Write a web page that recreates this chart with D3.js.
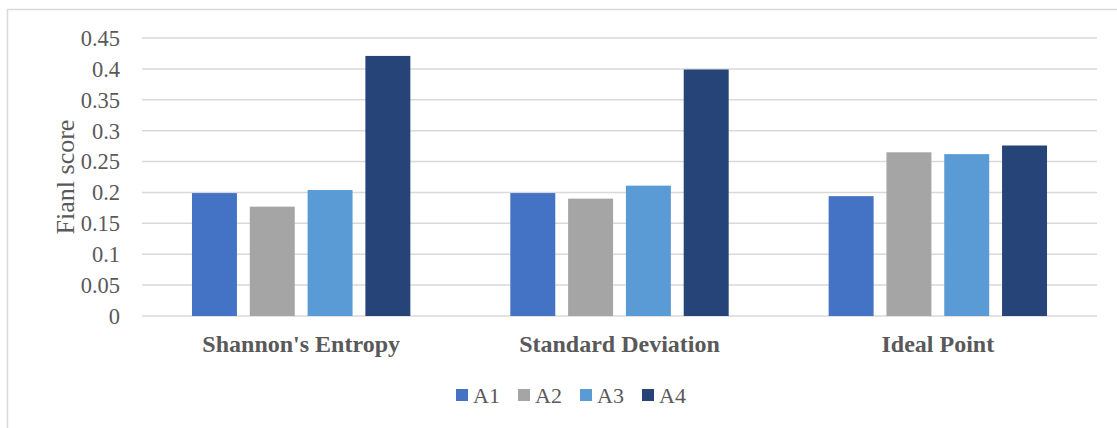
<!DOCTYPE html>
<html>
<head>
<meta charset="utf-8">
<script src="https://cdn.jsdelivr.net/npm/d3@7"></script>
<style>
  html, body { margin: 0; padding: 0; background: #fff; }
  svg { display: block; }
  text { font-family: "Liberation Serif", "Times New Roman", serif; fill: #595959; }
</style>
</head>
<body>
<svg id="chart" width="1117" height="428"></svg>
<script>
// Final scores of alternatives A1–A4 under three weighting methods
const categories = ["Shannon's Entropy", "Standard Deviation", "Ideal Point"];
const seriesNames = ["A1", "A2", "A3", "A4"];
const seriesColors = ["#4472C4", "#A5A5A5", "#5B9BD5", "#264478"];
const valuesA1 = [0.199, 0.199, 0.194];
const valuesA2 = [0.177, 0.190, 0.265];
const valuesA3 = [0.204, 0.211, 0.262];
const valuesA4 = [0.421, 0.399, 0.276];
const yTicks = [0, 0.05, 0.1, 0.15, 0.2, 0.25, 0.3, 0.35, 0.4, 0.45];
const yTickLabels = ["0", "0.05", "0.1", "0.15", "0.2", "0.25", "0.3", "0.35", "0.4", "0.45"];

const seriesValues = [valuesA1, valuesA2, valuesA3, valuesA4];
const rows = categories.map((c, i) => ({
  category: c,
  values: seriesNames.map((s, j) => ({ key: s, value: seriesValues[j][i], color: seriesColors[j] }))
}));

const svg = d3.select("#chart");
const plot = { left: 142, right: 1097, top: 38, bottom: 316 };
const serif = "Liberation Serif, Times New Roman, serif";

// outer frame (top and left edges visible)
svg.append("path")
  .attr("d", "M7.5,428 L7.5,9.5 L1117,9.5")
  .attr("fill", "none").attr("stroke", "#d9d9d9").attr("stroke-width", 1.5);

const x0 = d3.scaleBand().domain(categories).range([plot.left, plot.right]).padding(0);
const groupInset = x0.bandwidth() * 0.157;
const x1 = d3.scaleBand().domain(seriesNames)
  .range([groupInset, x0.bandwidth() - groupInset]).paddingInner(0.222).paddingOuter(0);
const y = d3.scaleLinear().domain([0, 0.45]).range([plot.bottom, plot.top]);

// gridlines
svg.append("g").selectAll("line").data(yTicks).join("line")
  .attr("x1", plot.left).attr("x2", plot.right)
  .attr("y1", d => y(d)).attr("y2", d => y(d))
  .attr("stroke", "#d9d9d9").attr("stroke-width", 1.5);

// y axis labels
const yAxis = d3.axisLeft(y).tickValues(yTicks).tickSize(0).tickPadding(0)
  .tickFormat((d, i) => yTickLabels[i]);
const yg = svg.append("g").attr("transform", `translate(${plot.left - 22},0)`).call(yAxis);
yg.select(".domain").remove();
yg.selectAll("text")
  .attr("font-size", 22.5).attr("fill", "#595959")
  .attr("font-family", serif)
  .attr("dy", "0.33em");

// bars
const groups = svg.append("g").selectAll("g").data(rows).join("g")
  .attr("transform", d => `translate(${x0(d.category)},0)`);
groups.selectAll("rect").data(d => d.values).join("rect")
  .attr("x", d => x1(d.key))
  .attr("width", x1.bandwidth())
  .attr("y", d => y(d.value))
  .attr("height", d => y(0) - y(d.value))
  .attr("fill", d => d.color);

// category labels
const xAxis = d3.axisBottom(x0).tickSize(0).tickPadding(0);
const xg = svg.append("g").attr("transform", `translate(0,${plot.bottom})`).call(xAxis);
xg.select(".domain").remove();
xg.selectAll("text")
  .attr("y", 36).attr("dy", 0)
  .attr("font-size", 24).attr("font-weight", "bold").attr("fill", "#595959")
  .attr("font-family", serif);

// y axis title
svg.append("text")
  .attr("transform", "translate(74,177) rotate(-90)")
  .attr("text-anchor", "middle")
  .attr("font-size", 26)
  .text("Fianl score");

// legend
const legendStart = 456, legendStep = 62;
const legend = svg.append("g").selectAll("g").data(seriesNames).join("g")
  .attr("transform", (d, i) => `translate(${legendStart + i * legendStep},389)`);
legend.append("rect").attr("width", 12).attr("height", 12)
  .attr("fill", (d, i) => seriesColors[i]);
legend.append("text").attr("x", 17).attr("y", 13.5)
  .attr("font-size", 22).text(d => d);
</script>
</body>
</html>
